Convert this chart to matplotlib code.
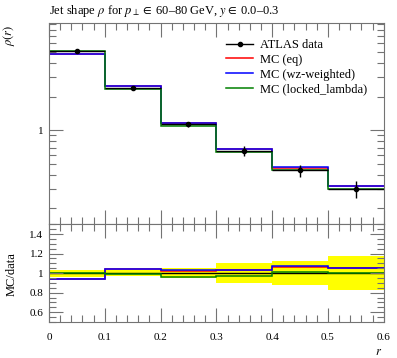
import numpy as np
import matplotlib
matplotlib.use("Agg")
import matplotlib.pyplot as plt
from matplotlib.lines import Line2D
from matplotlib.ticker import MultipleLocator, LogLocator, NullFormatter, FixedLocator, FixedFormatter

# bin edges in r
edges = [0.0, 0.1, 0.2, 0.3, 0.4, 0.5, 0.6]

# ATLAS data and relative uncertainty
data = [5.15, 2.39, 1.13, 0.657, 0.437, 0.300]
data_relerr = [0.035, 0.03, 0.05, 0.10, 0.125, 0.175]

# MC predictions
mc_eq = [4.85, 2.49, 1.16, 0.677, 0.464, 0.317]
mc_wz = [4.85, 2.49, 1.165, 0.680, 0.467, 0.317]
mc_locked = [5.15, 2.36, 1.085, 0.637, 0.440, 0.300]

plt.rcParams["font.family"] = ["Liberation Serif", "DejaVu Serif"]
plt.rcParams["mathtext.fontset"] = "stix"
plt.rcParams["font.size"] = 8

W, H = 397, 358
fig = plt.figure(figsize=(W / 100, H / 100), dpi=100)
left = 49 / W
width = (383.7 - 49) / W
ax = fig.add_axes([left, 1 - 224.3 / H, width, (224.3 - 23.3) / H])
axr = fig.add_axes([left, 1 - 322 / H, width, (322 - 224.3) / H], sharex=ax)

edges = np.array(edges)
data = np.array(data)
relerr = np.array(data_relerr)
centers = 0.5 * (edges[:-1] + edges[1:])
halfw = 0.5 * np.diff(edges)

colors = {"eq": "#ff0000", "wz": "#0000ff", "locked": "#008000"}
lw = 1.1

# main panel
ax.stairs(mc_eq, edges, color=colors["eq"], lw=lw, baseline=None)
ax.stairs(mc_wz, edges, color=colors["wz"], lw=lw, baseline=None)
ax.stairs(mc_locked, edges, color=colors["locked"], lw=lw, baseline=None)
ax.errorbar(centers, data, xerr=halfw, yerr=data * relerr, fmt="o", color="black",
            ms=3, lw=1.0, capsize=0)

ax.set_yscale("log")
ax.set_ylim(0.144, 9.1)
ax.set_xlim(0, 0.6)
ax.yaxis.set_major_locator(FixedLocator([1]))
ax.yaxis.set_major_formatter(FixedFormatter(["1"]))
ax.yaxis.set_minor_locator(LogLocator(base=10, subs=np.arange(2, 10), numticks=20))
ax.yaxis.set_minor_formatter(NullFormatter())
ax.set_ylabel(r"$\rho(r)$", fontsize=9)
ax.yaxis.set_label_coords(-0.095, 0.94)
ax.tick_params(labelbottom=False)

handles = [
    Line2D([], [], color="black", marker="o", ms=3, lw=1.0),
    Line2D([], [], color=colors["eq"], lw=lw),
    Line2D([], [], color=colors["wz"], lw=lw),
    Line2D([], [], color=colors["locked"], lw=lw),
]
labels = ["ATLAS data", "MC (eq)", "MC (wz-weighted)", "MC (locked_lambda)"]
ax.legend(handles, labels, loc="upper right", bbox_to_anchor=(0.977, 0.965), frameon=False,
          fontsize=9, handlelength=2.1, labelspacing=0.22, handletextpad=0.6, borderpad=0.2)

ax.text(0.0, 1.046, r"Jet shape $\rho$ for $p_\perp \in$ 60–80 GeV, $y \in$ 0.0–0.3",
        transform=ax.transAxes, fontsize=9, ha="left", va="baseline")

# ratio panel
axr.stairs(1 + relerr, edges, baseline=1 - relerr, fill=True, color="#ffff00", lw=0)
axr.stairs(np.ones(len(data)), edges, color="black", lw=1.0, baseline=None)
axr.stairs(np.array(mc_eq) / data, edges, color=colors["eq"], lw=lw, baseline=None)
axr.stairs(np.array(mc_wz) / data, edges, color=colors["wz"], lw=lw, baseline=None)
axr.stairs(np.array(mc_locked) / data, edges, color=colors["locked"], lw=lw, baseline=None)
axr.set_ylim(0.5, 1.5)
axr.yaxis.set_major_locator(FixedLocator([0.6, 0.8, 1.0, 1.2, 1.4]))
axr.yaxis.set_major_formatter(FixedFormatter(["0.6", "0.8", "1", "1.2", "1.4"]))
axr.yaxis.set_minor_locator(MultipleLocator(0.05))
axr.set_ylabel("MC/data", fontsize=9)
axr.yaxis.set_label_coords(-0.095, 0.49)
axr.xaxis.set_major_locator(FixedLocator([0, 0.1, 0.2, 0.3, 0.4, 0.5, 0.6]))
axr.xaxis.set_major_formatter(FixedFormatter(["0", "0.1", "0.2", "0.3", "0.4", "0.5", "0.6"]))
axr.xaxis.set_minor_locator(MultipleLocator(0.02))
axr.set_xlabel(r"$r$", fontsize=9)
axr.xaxis.set_label_coords(0.986, -0.245)

for a in (ax, axr):
    for s in a.spines.values():
        s.set_color("0.45")
        s.set_linewidth(0.8)
    a.tick_params(which="both", direction="in", top=True, right=True, color="0.45", width=0.8)
    a.tick_params(which="major", length=10, pad=4)
    a.tick_params(which="minor", length=5)
axr.tick_params(axis="x", which="major", pad=8)

fig.savefig("out.png", dpi=100)
